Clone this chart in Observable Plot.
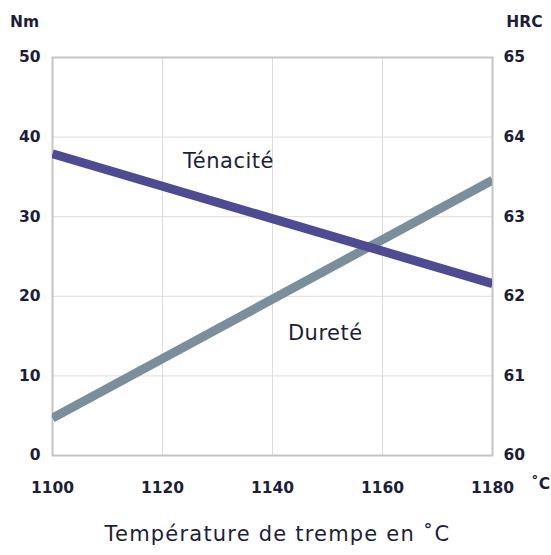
<!DOCTYPE html>
<html><head><meta charset="utf-8">
<script src="https://cdn.jsdelivr.net/npm/d3@7"></script>
<script src="https://cdn.jsdelivr.net/npm/@observablehq/plot@0.6"></script>
<style>
body{margin:0;background:#fff;}
#chart svg{font-family:"DejaVu Sans",sans-serif;}
#chart svg .wide text{letter-spacing:1.2px;}
#chart svg .series text{letter-spacing:0.5px;}
</style></head>
<body><div id="chart"></div>
<script>
const temps = [1100, 1180];
const tenacite = [37.9, 21.6];      // Nm
const durete = [60.47, 63.46];      // HRC
const xTicks = [1100, 1120, 1140, 1160, 1180];
const nmTicks = [0, 10, 20, 30, 40, 50];
const hrcTicks = [60, 61, 62, 63, 64, 65];
const seriesLabels = [
  {name: "Ténacité", x: 1132, y: 37},
  {name: "Dureté", x: 1149.6, y: 15.4}
];

const hrcToNm = h => (h - 60) * 10;
const tenData = temps.map((t, i) => ({t, v: tenacite[i]}));
const durData = temps.map((t, i) => ({t, v: hrcToNm(durete[i])}));

const ink = "#1e1e38";
const font = "'DejaVu Sans', sans-serif";
const chart = Plot.plot({
  width: 551,
  height: 555,
  marginLeft: 52,
  marginRight: 59,
  marginTop: 57,
  marginBottom: 100,
  x: {domain: [1100, 1180]},
  y: {domain: [0, 50]},
  style: {fontFamily: font, color: ink, background: "#fff"},
  marks: [
    Plot.ruleY(nmTicks.slice(1, -1), {stroke: "#dcdcdc", strokeWidth: 1}),
    Plot.ruleX(xTicks.slice(1, -1), {stroke: "#dcdcdc", strokeWidth: 1}),
    Plot.frame({stroke: "#c4c4c4", strokeWidth: 2}),
    Plot.line(durData, {x: "t", y: "v", stroke: "#7a8f9b", strokeWidth: 9, strokeLinecap: "butt", clip: true}),
    Plot.line(tenData, {x: "t", y: "v", stroke: "#4f4b92", strokeWidth: 9, strokeLinecap: "butt", clip: true}),
    Plot.text(seriesLabels, {x: "x", y: "y", text: "name", fontSize: 21, fill: ink, textAnchor: "middle", className: "series"}),
    Plot.axisX({ticks: xTicks, tickSize: 0, tickPadding: 26, fontSize: 15.5, fontWeight: 700, label: null, tickFormat: d => String(d)}),
    Plot.axisY({ticks: nmTicks, anchor: "left", tickSize: 0, tickPadding: 12, fontSize: 15.5, fontWeight: 700, label: null}),
    Plot.axisY({ticks: nmTicks, anchor: "right", tickSize: 0, tickPadding: 11, fontSize: 15.5, fontWeight: 700, label: null, tickFormat: d => String(hrcTicks[nmTicks.indexOf(d)])}),
    Plot.text(["Nm"], {frameAnchor: "top-left", text: d => d, dx: -28, dy: -42, textAnchor: "middle", fontSize: 15.5, fontWeight: 700, fill: ink}),
    Plot.text(["HRC"], {frameAnchor: "top-right", text: d => d, dx: 32, dy: -42, textAnchor: "middle", fontSize: 15.5, fontWeight: 700, fill: ink}),
    Plot.text(["˚C"], {frameAnchor: "bottom-right", text: d => d, dx: 48, dy: 33, textAnchor: "middle", fontSize: 15.5, fontWeight: 700, fill: ink}),
    Plot.text(["Température de trempe en ˚C"], {frameAnchor: "bottom", text: d => d, dx: 5, dy: 85, textAnchor: "middle", fontSize: 21, fill: ink, className: "wide"})
  ]
});
document.getElementById("chart").appendChild(chart);
</script>
</body></html>
